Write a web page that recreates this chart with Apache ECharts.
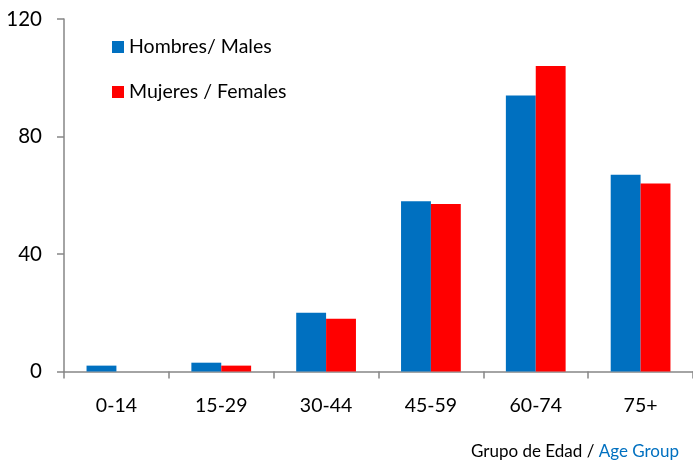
<!DOCTYPE html>
<html>
<head>
<meta charset="utf-8">
<script src="https://cdn.jsdelivr.net/npm/echarts@6/dist/echarts.min.js"></script>
<style>
  html, body { margin: 0; padding: 0; background: #fff; }
  #chart { width: 693px; height: 463px; }
</style>
</head>
<body>
<div id="chart"></div>
<script>
// Age groups and counts by sex
const ageGroups = ['0-14', '15-29', '30-44', '45-59', '60-74', '75+'];
const males = [2, 3, 20, 58, 94, 67];
const females = [0, 2, 18, 57, 104, 64];
const yTicks = { min: 0, max: 120, interval: 40 };

const FONT = 'Lato, "Open Sans", sans-serif';
const AXIS_GRAY = '#868686';

const chart = echarts.init(document.getElementById('chart'), null, { renderer: 'canvas' });
chart.setOption({
  animation: false,
  backgroundColor: '#ffffff',
  textStyle: { fontFamily: FONT },
  grid: { left: 64, top: 19, right: 0, bottom: 91.5, containLabel: false },
  title: {
    text: '{a|Grupo de Edad / }{b|Age Group}',
    right: 14,
    top: 443,
    padding: 0,
    textStyle: {
      fontWeight: 'normal',
      rich: {
        a: { fontFamily: FONT, fontSize: 17, fontWeight: 'normal', color: '#000000' },
        b: { fontFamily: FONT, fontSize: 17, fontWeight: 'normal', color: '#0070C0' }
      }
    }
  },
  legend: {
    orient: 'vertical',
    left: 112,
    top: 37,
    padding: 0,
    itemWidth: 12,
    itemHeight: 12,
    itemGap: 25,
    icon: 'rect',
    textStyle: { fontFamily: FONT, fontSize: 19.5, lineHeight: 20, color: '#000000' },
    data: ['Hombres/ Males', 'Mujeres / Females']
  },
  xAxis: {
    type: 'category',
    data: ageGroups,
    axisLine: { lineStyle: { color: AXIS_GRAY, width: 1.5 } },
    axisTick: { show: true, length: 7, lineStyle: { color: AXIS_GRAY, width: 1.5 } },
    axisLabel: { fontFamily: FONT, fontSize: 19.5, color: '#000000', margin: 24 }
  },
  yAxis: {
    type: 'value',
    min: yTicks.min,
    max: yTicks.max,
    interval: yTicks.interval,
    splitLine: { show: false },
    axisLine: { show: true, lineStyle: { color: AXIS_GRAY, width: 1.5 } },
    axisTick: { show: true, length: 7, lineStyle: { color: AXIS_GRAY, width: 1.5 } },
    axisLabel: { fontFamily: FONT, fontSize: 20.5, color: '#000000', margin: 22 }
  },
  series: [
    {
      name: 'Hombres/ Males',
      type: 'bar',
      data: males,
      itemStyle: { color: '#0070C0' },
      barGap: '0%',
      barCategoryGap: '43%'
    },
    {
      name: 'Mujeres / Females',
      type: 'bar',
      data: females,
      itemStyle: { color: '#FF0000' },
      barGap: '0%',
      barCategoryGap: '43%'
    }
  ]
});
</script>
</body>
</html>
